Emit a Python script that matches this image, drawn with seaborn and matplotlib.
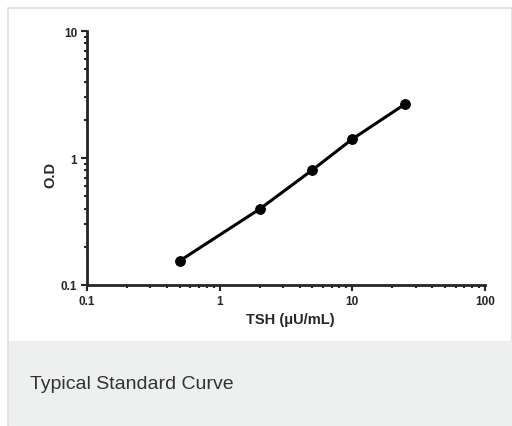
import matplotlib
matplotlib.use("Agg")
import matplotlib.pyplot as plt
import seaborn as sns
import pandas as pd
from matplotlib.patches import Rectangle

tsh = [0.5, 2, 5, 10, 25]
od = [0.155, 0.396, 0.805, 1.41, 2.66]
x_ticks = [0.1, 1, 10, 100]
x_tick_labels = ["0.1", "1", "10", "100"]
y_ticks = [0.1, 1, 10]
y_tick_labels = ["0.1", "1", "10"]
caption = "Typical Standard Curve"

sns.set_style("ticks")
plt.rcParams['font.family'] = ['Liberation Sans', 'DejaVu Sans']

df = pd.DataFrame({"TSH": tsh, "OD": od})

fig = plt.figure(figsize=(5.12, 4.27), dpi=100)
fig.patch.set_facecolor("white")

# outer border and caption panel
fig.patches.append(Rectangle((8/512, 0), 1 - 8/512, 1 - 9/427, transform=fig.transFigure,
                             fill=False, edgecolor="#dddddd", linewidth=1.2, zorder=0))
fig.patches.append(Rectangle((9/512, 0), 1 - 9/512, (427 - 342)/427, transform=fig.transFigure,
                             facecolor="#eef0ef", edgecolor="none", zorder=0))
fig.text(30/512, (427 - 385)/427, caption, fontsize=14, color="#333333",
         ha="left", va="center")

ax = fig.add_axes([87/512, (427 - 286)/427, (485 - 87)/512, (286 - 32)/427])
sns.lineplot(data=df, x="TSH", y="OD", ax=ax, color="black", linewidth=2.2,
             marker="o", markersize=7, markeredgecolor="black")
ax.set_xscale("log")
ax.set_yscale("log")
ax.set_xlim(0.1, 100)
ax.set_ylim(0.1, 10)
ax.set_xticks(x_ticks)
ax.set_xticklabels(x_tick_labels, fontweight="bold", fontsize=8.5)
ax.set_yticks(y_ticks)
ax.set_yticklabels(y_tick_labels, fontweight="bold", fontsize=8.5)
ax.set_xlabel("TSH (μU/mL)", fontweight="bold", fontsize=10.5)
ax.set_ylabel("O.D", fontweight="bold", fontsize=10.5)
ax.xaxis.set_label_coords((290 - 87)/398, (286 - 320)/254)
ax.xaxis.label.set_va("center")
ax.yaxis.set_label_coords((50 - 87)/398, (286 - 175)/254)
ax.yaxis.label.set_va("center")
for s in ["top", "right"]:
    ax.spines[s].set_visible(False)
for s in ["left", "bottom"]:
    ax.spines[s].set_linewidth(2)
ax.tick_params(which="major", length=4, width=1.5, pad=3)
ax.tick_params(which="minor", length=2.5, width=1.5)
ax.set_facecolor("none")

fig.savefig("out.png", dpi=100)
